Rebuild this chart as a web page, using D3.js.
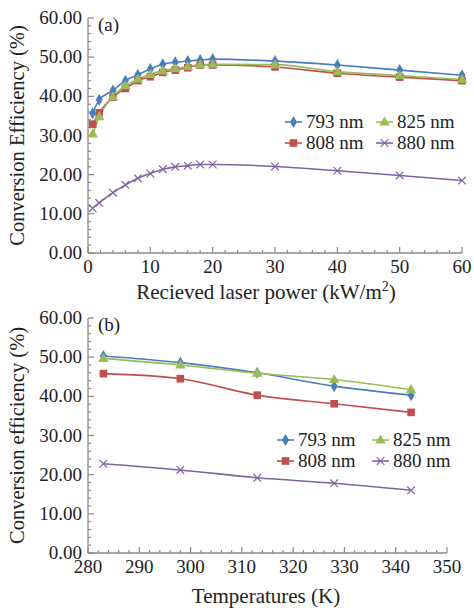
<!DOCTYPE html>
<html><head><meta charset="utf-8">
<script src="https://cdn.jsdelivr.net/npm/d3@7"></script>
<style>body{margin:0;background:#fff}svg{display:block}</style>
</head><body>
<script>
// ---- data ----
const seriesNames = ["793 nm", "808 nm", "825 nm", "880 nm"];
const powerX = [0.75, 1.8, 4, 6, 8, 10, 12, 14, 16, 18, 20, 30, 40, 50, 60];
const powerY793 = [35.7, 39.1, 41.5, 44.0, 45.5, 47.0, 48.2, 48.7, 49.0, 49.3, 49.5, 49.0, 48.0, 46.7, 45.4];
const powerY808 = [32.9, 35.8, 39.8, 42.0, 44.0, 45.0, 46.1, 46.7, 47.3, 48.0, 48.0, 47.5, 45.9, 44.9, 44.0];
const powerY825 = [30.4, 34.8, 39.9, 42.7, 44.4, 45.6, 46.5, 47.1, 47.6, 48.1, 48.2, 48.1, 46.3, 45.3, 44.3];
const powerY880 = [11.4, 12.8, 15.4, 17.4, 19.1, 20.3, 21.4, 22.0, 22.3, 22.6, 22.6, 22.1, 21.0, 19.8, 18.5];
const tempX = [283, 298, 313, 328, 343];
const tempY793 = [50.3, 48.6, 46.0, 42.6, 40.3];
const tempY808 = [45.8, 44.5, 40.3, 38.1, 35.9];
const tempY825 = [49.7, 48.0, 45.9, 44.3, 41.7];
const tempY880 = [22.8, 21.2, 19.2, 17.8, 16.0];
const yTicks = [0, 10, 20, 30, 40, 50, 60];
const powerTicks = [0, 10, 20, 30, 40, 50, 60];
const tempTicks = [280, 290, 300, 310, 320, 330, 340, 350];

const colors = ["#4a7ebb", "#c0504d", "#9bbb59", "#8064a2"];
const markers = ["diamond", "square", "triangle", "cross"];
const FONT = '"Liberation Serif"';

const svg = d3.select("body").append("svg").attr("width", 474).attr("height", 608);

function txt(g) {
  return g.append("text").style("font-family", FONT).attr("fill", "#222");
}

function marker(g, type, color, x, y) {
  if (type === "diamond") {
    g.append("path").attr("d", d3.symbol(d3.symbolDiamond, 42)()).attr("transform", `translate(${x},${y})`).attr("fill", color);
  } else if (type === "square") {
    g.append("path").attr("d", d3.symbol(d3.symbolSquare, 58)()).attr("transform", `translate(${x},${y})`).attr("fill", color);
  } else if (type === "triangle") {
    g.append("path").attr("d", d3.symbol(d3.symbolTriangle, 48)()).attr("transform", `translate(${x},${y+0.5})`).attr("fill", color);
  } else {
    g.append("path").attr("d", d3.symbol(d3.symbolX, 40)()).attr("transform", `translate(${x},${y})`)
      .attr("fill", "none").attr("stroke", color).attr("stroke-width", 1.2);
  }
}

function panel(opts) {
  const {x, y, xTicks, xVals, ySeries, xLabel, yLabel, tag, legend} = opts;
  const g = svg.append("g");
  const minorX = d3.range(x.domain()[0], x.domain()[1] + 0.001, 2);
  const minorY = d3.range(0, 60.001, 2);
  const axisColor = "#8a8a8a";
  g.append("line").attr("x1", x.range()[0]).attr("x2", x.range()[1]).attr("y1", y(0)).attr("y2", y(0)).attr("stroke", axisColor).attr("stroke-width", 1.3);
  g.append("line").attr("x1", x.range()[0]).attr("x2", x.range()[0]).attr("y1", y(0)).attr("y2", y(60)).attr("stroke", axisColor).attr("stroke-width", 1.3);
  minorX.forEach(v => {
    const major = xTicks.includes(Math.round(v));
    g.append("line").attr("x1", x(v)).attr("x2", x(v)).attr("y1", y(0)).attr("y2", y(0) - (major ? 6 : 3)).attr("stroke", axisColor).attr("stroke-width", 1.2);
  });
  minorY.forEach(v => {
    const major = yTicks.includes(Math.round(v));
    g.append("line").attr("y1", y(v)).attr("y2", y(v)).attr("x1", x.range()[0]).attr("x2", x.range()[0] + (major ? 6 : 3)).attr("stroke", axisColor).attr("stroke-width", 1.2);
  });
  xTicks.forEach(v => {
    txt(g).attr("x", x(v)).attr("y", y(0) + 20).attr("text-anchor", "middle").attr("font-size", 19).text(v);
  });
  yTicks.forEach(v => {
    txt(g).attr("x", x.range()[0] - 6).attr("y", y(v) + 6).attr("text-anchor", "end").attr("font-size", 19).text(v.toFixed(2));
  });
  const xl = txt(g).attr("x", 266).attr("y", opts.xLabelY).attr("text-anchor", "middle").attr("font-size", 21);
  xl.append("tspan").text(xLabel);
  if (opts.xSup) {
    xl.append("tspan").attr("font-size", 14).attr("dy", -8).text(opts.xSup);
    xl.append("tspan").attr("dy", 8).text(opts.xAfter);
  }
  txt(g).attr("transform", `translate(24,${(y(0) + y(60)) / 2}) rotate(-90)`).attr("text-anchor", "middle")
    .attr("font-size", 20.5).text(yLabel);
  txt(g).attr("x", x.range()[0] + 10).attr("y", y(60) + 13).attr("font-size", 19).text(tag);
  const line = d3.line().x(d => x(d[0])).y(d => y(d[1])).curve(d3.curveMonotoneX);
  ySeries.forEach((ys, i) => {
    const pts = xVals.map((v, j) => [v, ys[j]]);
    g.append("path").attr("d", line(pts)).attr("fill", "none").attr("stroke", colors[i]).attr("stroke-width", 1.6);
  });
  ySeries.forEach((ys, i) => {
    xVals.forEach((v, j) => marker(g, markers[i], colors[i], x(v), y(ys[j])));
  });
  seriesNames.forEach((name, i) => {
    const c = Math.floor(i / 2), r = i % 2;
    const lx = legend.x + c * legend.dx, ly = legend.y + r * legend.dy;
    g.append("line").attr("x1", lx).attr("x2", lx + 17).attr("y1", ly).attr("y2", ly).attr("stroke", colors[i]).attr("stroke-width", 1.6);
    marker(g, markers[i], colors[i], lx + 8.5, ly);
    txt(g).attr("x", lx + 21).attr("y", ly + 6).attr("font-size", 19).text(name);
  });
}

panel({
  x: d3.scaleLinear().domain([0, 60]).range([88, 462]),
  y: d3.scaleLinear().domain([0, 60]).range([253, 18]),
  xTicks: powerTicks, xVals: powerX,
  ySeries: [powerY793, powerY808, powerY825, powerY880],
  xLabel: "Recieved laser power (kW/m", xSup: "2", xAfter: ")", xLabelY: 299,
  yLabel: "Conversion Efficiency (%)", tag: "(a)",
  legend: {x: 285, y: 122, dx: 91, dy: 21}
});
panel({
  x: d3.scaleLinear().domain([280, 350]).range([88, 447]),
  y: d3.scaleLinear().domain([0, 60]).range([553, 318]),
  xTicks: tempTicks, xVals: tempX,
  ySeries: [tempY793, tempY808, tempY825, tempY880],
  xLabel: "Temperatures (K)", xLabelY: 603,
  yLabel: "Conversion efficiency (%)", tag: "(b)",
  legend: {x: 277, y: 440, dx: 95, dy: 21}
});
</script>
</body></html>
